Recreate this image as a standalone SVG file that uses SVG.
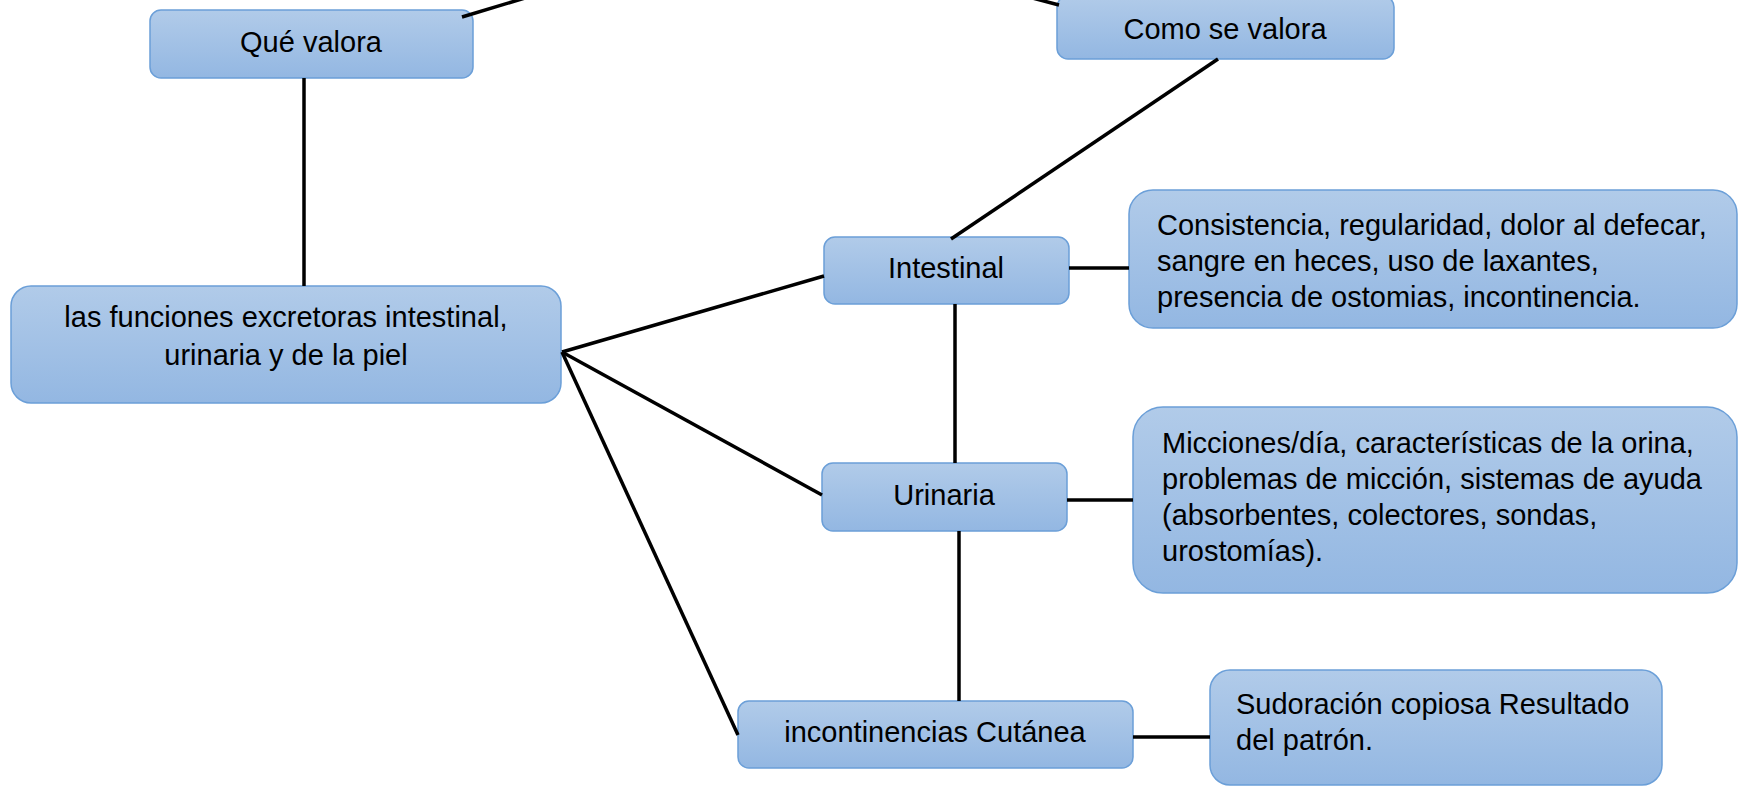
<svg xmlns="http://www.w3.org/2000/svg" width="1739" height="787" viewBox="0 0 1739 787">
<defs>
<linearGradient id="fill" x1="0" y1="0" x2="0" y2="1">
<stop offset="0" stop-color="#b1cbe9"/>
<stop offset="1" stop-color="#93b7e2"/>
</linearGradient>
<style>
.box{fill:url(#fill);stroke:#6b9fd8;stroke-width:1.5}
.t{font-family:"Liberation Sans",Arial,sans-serif;font-size:29px;fill:#000}
.c{text-anchor:middle}
.ln{stroke:#000;stroke-width:3.5;fill:none}
</style>
</defs>
<rect width="1739" height="787" fill="#fff"/>
<g id="que-valora">
<rect class="box" x="150" y="10" width="323" height="68" rx="11"/>
<text class="t c" x="311" y="52">Qué valora</text>
</g>
<g id="como-se-valora">
<rect class="box" x="1057" y="-4" width="337" height="63" rx="11"/>
<text class="t c" x="1225" y="39">Como se valora</text>
</g>
<g id="funciones">
<rect class="box" x="11" y="286" width="550" height="117" rx="20"/>
<text class="t c" x="286" y="327">las funciones excretoras intestinal,</text>
<text class="t c" x="286" y="365">urinaria y de la piel</text>
</g>
<g id="intestinal">
<rect class="box" x="824" y="237" width="245" height="67" rx="11"/>
<text class="t c" x="946" y="278">Intestinal</text>
</g>
<g id="consistencia">
<rect class="box" x="1129" y="190" width="608" height="138" rx="24"/>
<text class="t" x="1157" y="235">Consistencia, regularidad, dolor al defecar,</text>
<text class="t" x="1157" y="271">sangre en heces, uso de laxantes,</text>
<text class="t" x="1157" y="307">presencia de ostomias, incontinencia.</text>
</g>
<g id="urinaria">
<rect class="box" x="822" y="463" width="245" height="68" rx="11"/>
<text class="t c" x="944" y="505">Urinaria</text>
</g>
<g id="micciones">
<rect class="box" x="1133" y="407" width="604" height="186" rx="30"/>
<text class="t" x="1162" y="453">Micciones/día, características de la orina,</text>
<text class="t" x="1162" y="489">problemas de micción, sistemas de ayuda</text>
<text class="t" x="1162" y="525">(absorbentes, colectores, sondas,</text>
<text class="t" x="1162" y="561">urostomías).</text>
</g>
<g id="incontinencias">
<rect class="box" x="738" y="701" width="395" height="67" rx="11"/>
<text class="t c" x="935" y="742">incontinencias Cutánea</text>
</g>
<g id="sudoracion">
<rect class="box" x="1210" y="670" width="452" height="115" rx="20"/>
<text class="t" x="1236" y="714">Sudoración copiosa Resultado</text>
<text class="t" x="1236" y="750">del patrón.</text>
</g>
<g id="connectors">
<line class="ln" x1="462" y1="17" x2="535" y2="-5"/>
<line class="ln" x1="1021" y1="-5" x2="1059" y2="5"/>
<line class="ln" x1="304" y1="78" x2="304" y2="286"/>
<line class="ln" x1="1218" y1="59" x2="951" y2="239"/>
<line class="ln" x1="562" y1="352" x2="824" y2="276"/>
<line class="ln" x1="562" y1="352" x2="822" y2="495"/>
<line class="ln" x1="562" y1="352" x2="738" y2="735"/>
<line class="ln" x1="1069" y1="268" x2="1129" y2="268"/>
<line class="ln" x1="955" y1="304" x2="955" y2="463"/>
<line class="ln" x1="1067" y1="500" x2="1133" y2="500"/>
<line class="ln" x1="959" y1="531" x2="959" y2="701"/>
<line class="ln" x1="1133" y1="737" x2="1210" y2="737"/>
</g>
</svg>
